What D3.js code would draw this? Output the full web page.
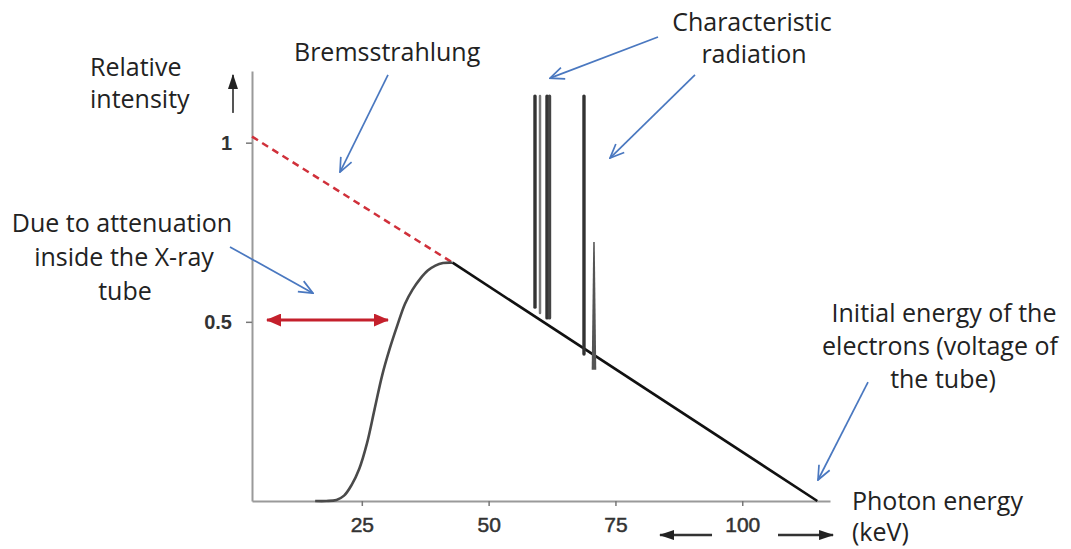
<!DOCTYPE html>
<html><head><meta charset="utf-8">
<script src="https://cdn.jsdelivr.net/npm/d3@7"></script>
<style>
html,body{margin:0;padding:0;background:#fff;}
svg{display:block;}
</style></head>
<body>
<svg id="chart" width="1071" height="549"></svg>
<script>
// ---- data ----
const xTicks = [25, 50, 75, 100];
const yTicks = [0.5, 1];
const yTickLabels = ["0.5", "1"];
// unfiltered Bremsstrahlung (dashed part) and continuing straight line
const bremsDashed = [[3.35, 1.017], [42.9, 0.665]];
const bremsSolid = [[42.9, 0.665], [114.8, 0]];
// filtered spectrum (attenuated low energy part)
const filteredE = [15.8, 18, 20, 21.5, 23, 24.5, 26, 27.5, 29, 30.5, 32, 33.5, 35, 36.5, 38, 39.5, 41, 42.9];
const filteredI = [0, 0, 0.003, 0.015, 0.045, 0.09, 0.16, 0.255, 0.35, 0.425, 0.49, 0.55, 0.59, 0.62, 0.643, 0.657, 0.664, 0.665];
// characteristic lines
const peakEnergy = [59.14, 60.13, 61.51, 62.0, 68.8, 70.77];
const peakTop = [1.13, 1.13, 1.13, 1.13, 1.13, 0.723];
const peakBase = [0.541, 0.525, 0.511, 0.511, 0.41, 0.366];
const peakShade = ["#333", "#7a7a7a", "#333", "#444", "#333", "#555"];

// ---- layout ----
const svg = d3.select("#chart");
const x = d3.scaleLinear().domain([3.35, 117.3]).range([252, 830]);
const y = d3.scaleLinear().domain([0, 1.2]).range([501, 71]);

const defs = svg.append("defs");
defs.append("marker").attr("id", "blueHead")
  .attr("viewBox", "0 0 16 16").attr("refX", 15).attr("refY", 8)
  .attr("markerWidth", 16).attr("markerHeight", 16)
  .attr("markerUnits", "userSpaceOnUse").attr("orient", "auto")
  .append("path").attr("d", "M1,2 L15,8 L1,14")
  .attr("fill", "none").attr("stroke", "#4a78c0").attr("stroke-width", 1.7);
defs.append("marker").attr("id", "redHead")
  .attr("viewBox", "0 0 15 13").attr("refX", 14).attr("refY", 6.5)
  .attr("markerWidth", 15).attr("markerHeight", 13)
  .attr("markerUnits", "userSpaceOnUse").attr("orient", "auto-start-reverse")
  .append("path").attr("d", "M0,0 L15,6.5 L0,13 Z").attr("fill", "#c4202c");
defs.append("marker").attr("id", "blackHead")
  .attr("viewBox", "0 0 15 10").attr("refX", 14).attr("refY", 5)
  .attr("markerWidth", 15).attr("markerHeight", 10)
  .attr("markerUnits", "userSpaceOnUse").attr("orient", "auto")
  .append("path").attr("d", "M0,0 L15,5 L0,10 Z").attr("fill", "#222");

// ---- axes ----
const xAxis = svg.append("g").attr("transform", `translate(0,${y(0)})`)
  .call(d3.axisBottom(x).tickValues(xTicks).tickSize(5).tickSizeOuter(0).tickPadding(11));
xAxis.select(".domain").attr("stroke", "#9a9a9a").attr("stroke-width", 2);
xAxis.selectAll(".tick line").attr("stroke", "#777").attr("stroke-width", 1.5);
xAxis.selectAll(".tick text").attr("font-family", "Liberation Sans, Arial, sans-serif")
  .attr("font-size", 21).attr("fill", "#333").attr("stroke", "#333").attr("stroke-width", 0.5);

const yAxis = svg.append("g").attr("transform", `translate(${x(3.35)},0)`)
  .call(d3.axisLeft(y).tickValues(yTicks).tickFormat((d, i) => yTickLabels[i]).tickSize(6).tickSizeOuter(0).tickPadding(14));
yAxis.select(".domain").attr("stroke", "#9a9a9a").attr("stroke-width", 2);
yAxis.selectAll(".tick line").attr("stroke", "#777").attr("stroke-width", 1.5);
yAxis.selectAll(".tick text").attr("font-family", "Liberation Sans, Arial, sans-serif")
  .attr("font-size", 20).attr("font-weight", "bold").attr("fill", "#333");

// ---- spectrum ----
const line = d3.line().x(d => x(d[0])).y(d => y(d[1]));
svg.append("path").datum(bremsDashed).attr("d", line)
  .attr("fill", "none").attr("stroke", "#d0303a").attr("stroke-width", 2.5).attr("stroke-dasharray", "7,5");

const filtered = filteredE.map((e, i) => [e, filteredI[i]]);
svg.append("path").datum(filtered)
  .attr("d", d3.line().x(d => x(d[0])).y(d => y(d[1])).curve(d3.curveCatmullRom))
  .attr("fill", "none").attr("stroke", "#4a4a4a").attr("stroke-width", 2.6);

svg.append("path").datum(bremsSolid).attr("d", line)
  .attr("fill", "none").attr("stroke", "#111").attr("stroke-width", 2.6);

// characteristic peaks
peakEnergy.forEach((e, i) => {
  if (i < 5) {
    svg.append("line")
      .attr("x1", x(e)).attr("x2", x(e)).attr("y1", y(peakTop[i])).attr("y2", y(peakBase[i]))
      .attr("stroke", peakShade[i]).attr("stroke-width", i === 1 ? 2.5 : 3.4).attr("stroke-linecap", "round");
  } else {
    const pts = [[e - 0.15, peakTop[i]], [e + 0.15, peakTop[i]], [e + 0.45, peakBase[i]], [e - 0.45, peakBase[i]]];
    svg.append("path").attr("d", d3.line().x(d => x(d[0])).y(d => y(d[1]))(pts) + "Z")
      .attr("fill", peakShade[i]);
  }
});

// ---- annotation arrows (data coordinates) ----
const blueArrows = [
  [[30.16, 1.189], [20.70, 0.918]],
  [[83.39, 1.295], [62.10, 1.180]],
  [[90.68, 1.189], [73.93, 0.957]],
  [[-0.99, 0.709], [15.38, 0.580]],
  [[124.79, 0.332], [114.93, 0.0586]]
];
blueArrows.forEach(a => {
  svg.append("path").attr("d", line(a)).attr("fill", "none")
    .attr("stroke", "#4a78c0").attr("stroke-width", 1.7).attr("marker-end", "url(#blueHead)");
});

// red double arrow at the 0.5 level
const redArrow = [[6.31, 0.505], [30.16, 0.505]];
svg.append("path").attr("d", line(redArrow)).attr("stroke", "#c4202c").attr("stroke-width", 3)
  .attr("marker-start", "url(#redHead)").attr("marker-end", "url(#redHead)");

// bottom black arrows around "100"
const blackArrows = [
  [[94.04, -0.095], [83.79, -0.095]],
  [[107.05, -0.095], [117.9, -0.095]]
];
blackArrows.forEach(a => {
  svg.append("path").attr("d", line(a)).attr("stroke", "#333").attr("stroke-width", 2.4)
    .attr("marker-end", "url(#blackHead)");
});

// y-axis direction arrow
const yArrow = [[-0.4, 1.083], [-0.4, 1.189]];
svg.append("path").attr("d", line(yArrow)).attr("stroke", "#555").attr("stroke-width", 2)
  .attr("marker-end", "url(#blackHead)");

// ---- texts ----
const labels = [
  {t: "Relative", x: 90, y: 76, a: "start"},
  {t: "intensity", x: 90, y: 108, a: "start"},
  {t: "Bremsstrahlung", x: 294, y: 61, a: "start"},
  {t: "Characteristic", x: 752, y: 31, a: "middle"},
  {t: "radiation", x: 754, y: 63, a: "middle"},
  {t: "Due to attenuation", x: 122, y: 232, a: "middle"},
  {t: "inside the X-ray", x: 124, y: 266, a: "middle"},
  {t: "tube", x: 125, y: 300, a: "middle"},
  {t: "Initial energy of the", x: 944, y: 322, a: "middle"},
  {t: "electrons (voltage of", x: 940, y: 355, a: "middle"},
  {t: "the tube)", x: 943, y: 388, a: "middle"},
  {t: "Photon energy", x: 852, y: 510, a: "start"},
  {t: "(keV)", x: 852, y: 541, a: "start"}
];
svg.append("g").selectAll("text").data(labels).join("text")
  .attr("x", d => d.x).attr("y", d => d.y).attr("text-anchor", d => d.a)
  .attr("font-family", "Open Sans, sans-serif").attr("font-size", 25).attr("fill", "#222")
  .text(d => d.t);
</script>
</body></html>
